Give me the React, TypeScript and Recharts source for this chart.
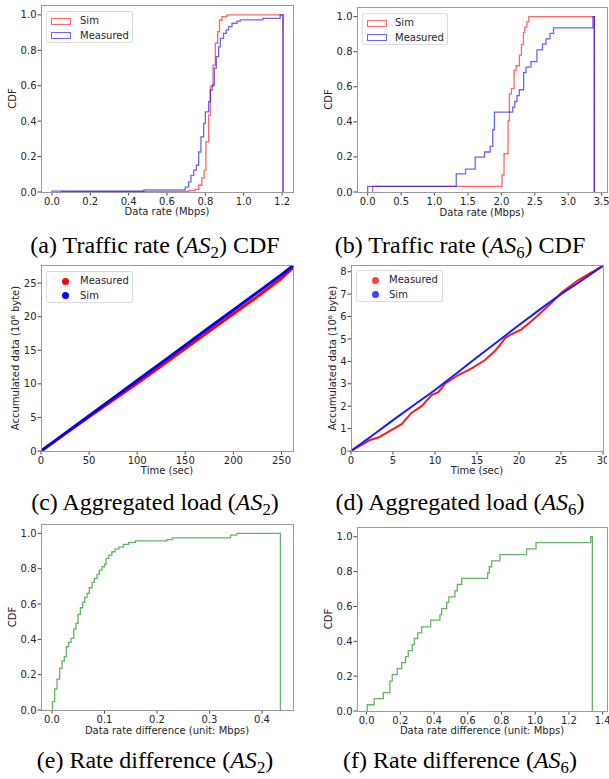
import React from "react"
import { LineChart, Line, XAxis, YAxis } from "recharts"

// (a) traffic rate AS2, step CDF: x where the step happens, level after it
const simRateAS2X = [0.05, 0.713, 0.748, 0.765, 0.782, 0.794, 0.803, 0.817, 0.826, 0.84, 0.852, 0.864, 0.874, 0.887, 0.913]
const simRateAS2Y = [0.003, 0.008, 0.015, 0.038, 0.08, 0.123, 0.283, 0.434, 0.598, 0.717, 0.84, 0.905, 0.97, 0.99, 1.0]
const measRateAS2X = [0.0, 0.48, 0.695, 0.713, 0.725, 0.739, 0.753, 0.765, 0.777, 0.791, 0.8, 0.817, 0.826, 0.836, 0.847, 0.857, 0.869, 0.878, 0.895, 0.909, 0.921, 0.939, 0.965, 0.982, 1.1, 1.19]
const measRateAS2Y = [0.005, 0.012, 0.028, 0.057, 0.094, 0.123, 0.151, 0.226, 0.311, 0.387, 0.453, 0.51, 0.576, 0.604, 0.7, 0.764, 0.82, 0.868, 0.896, 0.915, 0.934, 0.953, 0.965, 0.972, 0.98, 1.0]
const rateAS2End = 1.205

// (b) traffic rate AS6
const simRateAS6X = [0.074, 2.01, 2.04, 2.1, 2.12, 2.15, 2.19, 2.22, 2.27, 2.3, 2.33, 2.35, 2.38, 2.41]
const simRateAS6Y = [0.032, 0.097, 0.218, 0.406, 0.56, 0.59, 0.693, 0.72, 0.78, 0.84, 0.91, 0.94, 0.97, 1.0]
const measRateAS6X = [0.0, 1.325, 1.464, 1.608, 1.747, 1.832, 1.871, 1.896, 2.169, 2.2, 2.233, 2.268, 2.333, 2.368, 2.442, 2.532, 2.615, 2.666, 2.726, 2.78, 3.37]
const measRateAS6Y = [0.032, 0.103, 0.131, 0.199, 0.228, 0.26, 0.355, 0.456, 0.484, 0.516, 0.55, 0.583, 0.681, 0.712, 0.744, 0.81, 0.843, 0.873, 0.905, 0.936, 1.0]
const rateAS6End = 3.39

// (c) aggregated load AS2
const loadAS2Time = [0, 25, 50, 75, 100, 125, 150, 175, 200, 225, 250, 262]
const loadAS2Measured = [0, 2.55, 5.1, 7.6, 10.1, 12.65, 15.25, 17.85, 20.45, 23.0, 25.7, 27.3]
const loadAS2Sim = [0, 2.62, 5.25, 7.88, 10.5, 13.12, 15.75, 18.38, 21.0, 23.62, 26.25, 27.6]

// (d) aggregated load AS6
const loadAS6MeasTime = [0, 2.26, 3.25, 4.96, 6.03, 7.22, 8.41, 9.6, 10.4, 11.19, 12.78, 14.37, 15.95, 16.94, 17.74, 18.33, 19.13, 20.3, 21.5, 22.3, 23.9, 25.08, 27.06, 30]
const loadAS6Measured = [0, 0.49, 0.6, 0.97, 1.2, 1.71, 2.0, 2.5, 2.63, 3.0, 3.39, 3.69, 4.06, 4.39, 4.73, 5.03, 5.22, 5.43, 5.8, 6.07, 6.62, 7.07, 7.63, 8.27]
const loadAS6SimTime = [0, 2.5, 5, 7.5, 10, 12.5, 15, 17.5, 20, 22.5, 25, 27.5, 30]
const loadAS6Sim = [0, 0.68, 1.38, 2.05, 2.72, 3.45, 4.18, 4.9, 5.62, 6.32, 7.0, 7.62, 8.27]

// (e) rate difference AS2
const diffAS2X = [0.001, 0.005, 0.0095, 0.0145, 0.019, 0.0234, 0.0272, 0.0317, 0.0362, 0.0412, 0.0457, 0.0495, 0.0539, 0.0584, 0.0622, 0.0667, 0.0711, 0.0762, 0.0806, 0.0857, 0.0901, 0.0952, 0.1, 0.103, 0.108, 0.114, 0.12, 0.127, 0.136, 0.146, 0.159, 0.219, 0.229, 0.34, 0.352]
const diffAS2Y = [0.047, 0.119, 0.175, 0.236, 0.277, 0.302, 0.358, 0.383, 0.406, 0.458, 0.49, 0.541, 0.579, 0.609, 0.636, 0.66, 0.692, 0.723, 0.745, 0.768, 0.792, 0.811, 0.825, 0.858, 0.877, 0.896, 0.911, 0.922, 0.938, 0.949, 0.958, 0.965, 0.975, 0.99, 1.0]
const diffAS2End = 0.435

// (f) rate difference AS6
const diffAS6X = [0.004, 0.045, 0.099, 0.138, 0.152, 0.182, 0.208, 0.231, 0.247, 0.271, 0.283, 0.303, 0.326, 0.38, 0.435, 0.445, 0.475, 0.488, 0.524, 0.538, 0.564, 0.718, 0.728, 0.742, 0.791, 0.949, 1.005, 1.329]
const diffAS6Y = [0.036, 0.071, 0.105, 0.172, 0.209, 0.243, 0.278, 0.312, 0.347, 0.381, 0.416, 0.448, 0.483, 0.521, 0.552, 0.588, 0.623, 0.655, 0.69, 0.726, 0.761, 0.793, 0.828, 0.862, 0.898, 0.931, 0.966, 1.0]
const diffAS6End = 1.339

const cdfTicks = [0, 0.2, 0.4, 0.6, 0.8, 1.0]

type Pt = { x: number; y: number }

function cdfPoints(xs: number[], ys: number[], end: number): Pt[] {
  const pts: Pt[] = [{ x: xs[0], y: 0 }]
  xs.forEach((x, i) => pts.push({ x, y: ys[i] }))
  pts.push({ x: end, y: ys[ys.length - 1] })
  pts.push({ x: end, y: 0 })
  return pts
}

function zip(xs: number[], ys: number[]): Pt[] {
  return xs.map((x, i) => ({ x, y: ys[i] }))
}

const sans = "DejaVu Sans, Verdana, sans-serif"
const ink = "#262626"
const tickStyle = { fontSize: 10, fill: ink, fontFamily: sans }
const labelStyle = { textAnchor: "middle" as const, fontSize: 10, fill: ink, fontFamily: sans }
const padBottom = 8

type Series = { name: string; data: Pt[]; color: string; width: number; step: boolean }

type PanelProps = {
  left: number
  top: number
  width: number
  height: number
  marginTop: number
  marginRight: number
  yAxisWidth: number
  xAxisHeight: number
  xDomain: [number, number]
  xTicks: number[]
  xDigits: number
  yDomain: [number, number]
  yTicks: number[]
  yDigits: number
  xLabel: string
  yLabel: string
  yLabelX: number
  series: Series[]
}

function Panel(p: PanelProps) {
  const plotW = p.width - p.yAxisWidth - p.marginRight
  const plotH = p.height - p.marginTop - p.xAxisHeight
  return (
    <>
      <div style={{ position: "absolute", left: p.left, top: p.top }}>
        <LineChart width={p.width} height={p.height + padBottom} margin={{ top: p.marginTop, right: p.marginRight, left: 0, bottom: padBottom }}>
          <XAxis
            dataKey="x"
            type="number"
            domain={p.xDomain}
            ticks={p.xTicks}
            interval={0}
            allowDataOverflow
            height={p.xAxisHeight}
            axisLine={false}
            tickLine={{ stroke: "#444" }}
            tickSize={3.5}
            tickMargin={2}
            tick={tickStyle}
            tickFormatter={(v: number) => v.toFixed(p.xDigits)}
            label={{ value: p.xLabel, position: "insideBottom", offset: 0, style: labelStyle }}
          />
          <YAxis
            type="number"
            domain={p.yDomain}
            ticks={p.yTicks}
            interval={0}
            allowDataOverflow
            width={p.yAxisWidth}
            axisLine={false}
            tickLine={{ stroke: "#444" }}
            tickSize={3.5}
            tickMargin={1}
            tick={tickStyle}
            tickFormatter={(v: number) => v.toFixed(p.yDigits)}
            label={{ value: p.yLabel, position: "insideLeft", offset: p.yLabelX, angle: -90, style: labelStyle }}
          />
          {p.series.map((s) => (
            <Line
              key={s.name}
              name={s.name}
              data={s.data}
              dataKey="y"
              type={s.step ? "stepAfter" : "linear"}
              stroke={s.color}
              strokeWidth={s.width}
              dot={false}
              activeDot={false}
              isAnimationActive={false}
            />
          ))}
        </LineChart>
      </div>
      <div
        style={{
          position: "absolute",
          left: p.left + p.yAxisWidth,
          top: p.top + p.marginTop,
          width: plotW + 1,
          height: plotH + 1,
          boxSizing: "border-box",
          border: "1px solid #9a9a9a",
          pointerEvents: "none",
        }}
      />
    </>
  )
}

type LegendItem = { label: string; color: string; kind: "patch" | "dot" }

function Legend({ left, top, width, items, markX, textX }: { left: number; top: number; width: number; items: LegendItem[]; markX: number; textX: number }) {
  return (
    <div
      style={{
        position: "absolute",
        left,
        top,
        width,
        height: 32,
        boxSizing: "border-box",
        border: "1px solid #dcdcdc",
        borderRadius: 2,
        background: "rgba(255,255,255,0.8)",
        fontFamily: sans,
        fontSize: 10,
        color: ink,
      }}
    >
      {items.map((it, i) => (
        <div key={it.label} style={{ position: "absolute", left: 0, top: 2 + i * 14.5, height: 14, width: "100%" }}>
          {it.kind === "patch" ? (
            <div style={{ position: "absolute", left: markX, top: 3.5, width: 20, height: 7, boxSizing: "border-box", border: `1.2px solid ${it.color}` }} />
          ) : (
            <div style={{ position: "absolute", left: markX + 7, top: 3.5, width: 7, height: 7, borderRadius: "50%", background: it.color }} />
          )}
          <div style={{ position: "absolute", left: textX, top: 0, lineHeight: "14px", whiteSpace: "nowrap" }}>{it.label}</div>
        </div>
      ))}
    </div>
  )
}

function Caption({ cx, cy, tag, text, sub, tail }: { cx: number; cy: number; tag: string; text: string; sub: string; tail: string }) {
  return (
    <div
      style={{
        position: "absolute",
        left: cx - 170,
        width: 340,
        top: cy - 14,
        textAlign: "center",
        fontFamily: '"Liberation Serif", "Times New Roman", serif',
        fontSize: 24,
        lineHeight: "28px",
        color: "#000",
        whiteSpace: "nowrap",
      }}
    >
      ({tag}) {text} (<i>AS</i>
      <span style={{ fontSize: "0.7em", position: "relative", top: "0.3em" }}>{sub}</span>){tail}
    </div>
  )
}

const redA = "rgba(255,0,0,0.6)"
const blueA = "rgba(0,0,255,0.6)"
const greenA = "rgba(0,128,0,0.6)"

export default function App() {
  return (
    <div style={{ position: "absolute", left: 0, top: 0, width: 609, height: 779, background: "#fff", overflow: "hidden" }}>
      {/* (a) */}
      <Panel
        left={0} top={0} width={300} height={215} marginTop={5} marginRight={7} yAxisWidth={41} xAxisHeight={23}
        xDomain={[-0.057, 1.257]} xTicks={[0, 0.2, 0.4, 0.6, 0.8, 1.0, 1.2]} xDigits={1}
        yDomain={[0, 1.056]} yTicks={cdfTicks} yDigits={1}
        xLabel="Data rate (Mbps)" yLabel="CDF" yLabelX={12}
        series={[
          { name: "Sim", data: cdfPoints(simRateAS2X, simRateAS2Y, rateAS2End), color: redA, width: 1.3, step: true },
          { name: "Measured", data: cdfPoints(measRateAS2X, measRateAS2Y, rateAS2End), color: blueA, width: 1.3, step: true },
        ]}
      />
      <Legend left={46} top={11} width={87} markX={4} textX={33}
        items={[{ label: "Sim", color: redA, kind: "patch" }, { label: "Measured", color: blueA, kind: "patch" }]} />

      {/* (b) */}
      <Panel
        left={305} top={0} width={304} height={216} marginTop={7} marginRight={2} yAxisWidth={52} xAxisHeight={24}
        xDomain={[-0.16, 3.58]} xTicks={[0, 0.5, 1.0, 1.5, 2.0, 2.5, 3.0, 3.5]} xDigits={1}
        yDomain={[0, 1.055]} yTicks={cdfTicks} yDigits={1}
        xLabel="Data rate (Mbps)" yLabel="CDF" yLabelX={23}
        series={[
          { name: "Sim", data: cdfPoints(simRateAS6X, simRateAS6Y, rateAS6End), color: redA, width: 1.3, step: true },
          { name: "Measured", data: cdfPoints(measRateAS6X, measRateAS6Y, rateAS6End), color: blueA, width: 1.3, step: true },
        ]}
      />
      <Legend left={362} top={13} width={86} markX={4} textX={32}
        items={[{ label: "Sim", color: redA, kind: "patch" }, { label: "Measured", color: blueA, kind: "patch" }]} />

      <Caption cx={155} cy={245} tag="a" text="Traffic rate" sub="2" tail=" CDF" />
      <Caption cx={460} cy={245} tag="b" text="Traffic rate" sub="6" tail=" CDF" />

      {/* (c) */}
      <Panel
        left={0} top={250} width={300} height={224} marginTop={15} marginRight={7} yAxisWidth={41} xAxisHeight={23}
        xDomain={[0, 262]} xTicks={[0, 50, 100, 150, 200, 250]} xDigits={0}
        yDomain={[0, 27.7]} yTicks={[0, 5, 10, 15, 20, 25]} yDigits={0}
        xLabel="Time (sec)" yLabel="Accumulated data (10⁶ byte)" yLabelX={15}
        series={[
          { name: "Measured", data: zip(loadAS2Time, loadAS2Measured), color: "#ff0000", width: 3, step: false },
          { name: "Sim", data: zip(loadAS2Time, loadAS2Sim), color: "#0000ff", width: 3, step: false },
        ]}
      />
      <Legend left={46} top={271} width={87} markX={8} textX={33}
        items={[{ label: "Measured", color: "#ff0000", kind: "dot" }, { label: "Sim", color: "#0000ff", kind: "dot" }]} />

      {/* (d) */}
      <Panel
        left={305} top={250} width={302} height={224} marginTop={15} marginRight={4} yAxisWidth={46} xAxisHeight={23}
        xDomain={[0, 30]} xTicks={[0, 5, 10, 15, 20, 25, 30]} xDigits={0}
        yDomain={[0, 8.3]} yTicks={[0, 1, 2, 3, 4, 5, 6, 7, 8]} yDigits={0}
        xLabel="Time (sec)" yLabel="Accumulated data (10⁶ byte)" yLabelX={27}
        series={[
          { name: "Measured", data: zip(loadAS6MeasTime, loadAS6Measured), color: "#ff1a1a", width: 2, step: false },
          { name: "Sim", data: zip(loadAS6SimTime, loadAS6Sim), color: "#1a1aff", width: 2, step: false },
        ]}
      />
      <Legend left={356} top={270} width={87} markX={8} textX={32}
        items={[{ label: "Measured", color: "rgba(255,0,0,0.75)", kind: "dot" }, { label: "Sim", color: "rgba(0,0,255,0.75)", kind: "dot" }]} />

      <Caption cx={155} cy={502} tag="c" text="Aggregated load" sub="2" tail="" />
      <Caption cx={460} cy={502} tag="d" text="Aggregated load" sub="6" tail="" />

      {/* (e) */}
      <Panel
        left={0} top={520} width={300} height={214} marginTop={4} marginRight={7} yAxisWidth={41} xAxisHeight={24}
        xDomain={[-0.021, 0.459]} xTicks={[0, 0.1, 0.2, 0.3, 0.4]} xDigits={1}
        yDomain={[0, 1.053]} yTicks={cdfTicks} yDigits={1}
        xLabel="Data rate difference (unit: Mbps)" yLabel="CDF" yLabelX={12}
        series={[{ name: "Diff", data: cdfPoints(diffAS2X, diffAS2Y, diffAS2End), color: greenA, width: 1.3, step: true }]}
      />

      {/* (f) */}
      <Panel
        left={305} top={520} width={304} height={214} marginTop={7} marginRight={2} yAxisWidth={52} xAxisHeight={23}
        xDomain={[-0.057, 1.426]} xTicks={[0, 0.2, 0.4, 0.6, 0.8, 1.0, 1.2, 1.4]} xDigits={1}
        yDomain={[0, 1.056]} yTicks={cdfTicks} yDigits={1}
        xLabel="Data rate difference (unit: Mbps)" yLabel="CDF" yLabelX={23}
        series={[{ name: "Diff", data: cdfPoints(diffAS6X, diffAS6Y, diffAS6End), color: greenA, width: 1.3, step: true }]}
      />

      <Caption cx={155} cy={760} tag="e" text="Rate difference" sub="2" tail="" />
      <Caption cx={460} cy={760} tag="f" text="Rate difference" sub="6" tail="" />
    </div>
  )
}
